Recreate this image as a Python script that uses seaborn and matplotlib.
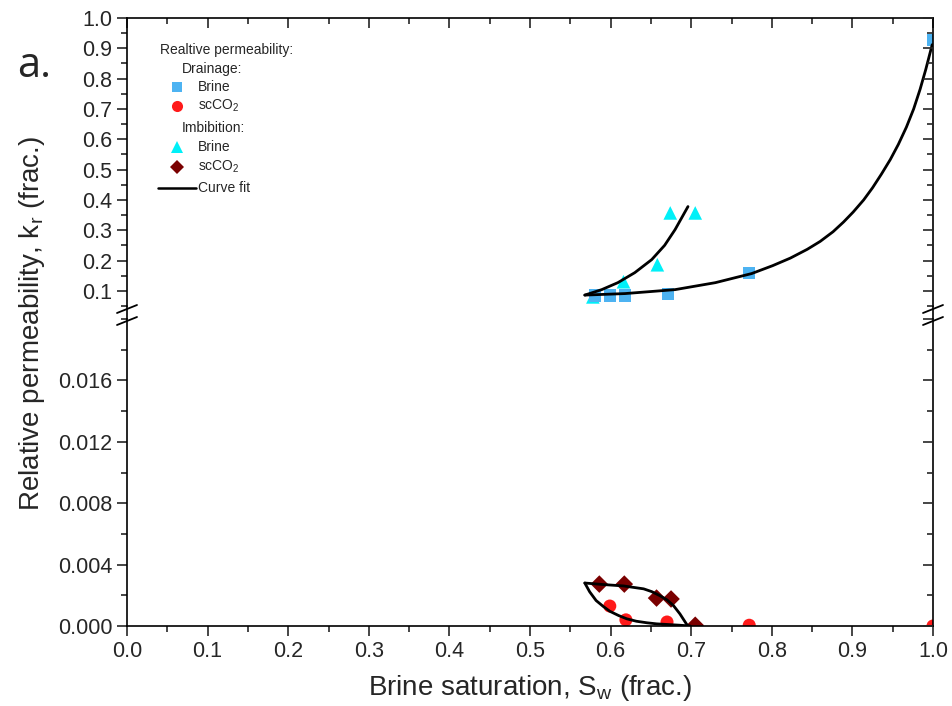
import matplotlib
matplotlib.use("Agg")
import matplotlib.pyplot as plt
from matplotlib.lines import Line2D
from matplotlib.ticker import MultipleLocator, FormatStrFormatter
import seaborn as sns

# ---------------- data ----------------
dr_brine_sw = [0.581, 0.599, 0.618, 0.671, 0.772, 1.0]
dr_brine_kr = [0.084, 0.084, 0.085, 0.090, 0.158, 0.928]
im_brine_sw = [0.578, 0.616, 0.658, 0.674, 0.705]
im_brine_kr = [0.080, 0.130, 0.186, 0.357, 0.357]
dr_co2_sw = [0.599, 0.619, 0.670, 0.772, 1.0]
dr_co2_kr = [0.0013, 0.0004, 0.00026, 0.00005, 0.0]
im_co2_sw = [0.586, 0.617, 0.657, 0.675, 0.705]
im_co2_kr = [0.00273, 0.00273, 0.00182, 0.00176, 0.00005]

# curve fits
fit_dr_brine_sw = [0.568, 0.618, 0.680, 0.730, 0.775, 0.801, 0.823, 0.844, 0.860, 0.876, 0.889, 0.901,
                   0.914, 0.925, 0.936, 0.947, 0.957, 0.967, 0.976, 0.984, 0.991, 0.999]
fit_dr_brine_kr = [0.086, 0.091, 0.104, 0.127, 0.157, 0.183, 0.208, 0.237, 0.263, 0.295, 0.327, 0.360,
                   0.400, 0.440, 0.485, 0.533, 0.583, 0.640, 0.700, 0.765, 0.830, 0.912]
fit_im_brine_sw = [0.568, 0.589, 0.609, 0.630, 0.651, 0.667, 0.680, 0.696]
fit_im_brine_kr = [0.086, 0.104, 0.127, 0.160, 0.203, 0.250, 0.302, 0.378]
fit_im_co2_sw = [0.568, 0.591, 0.616, 0.641, 0.651, 0.661, 0.670, 0.678, 0.686, 0.694, 0.696]
fit_im_co2_kr = [0.00280, 0.00270, 0.00261, 0.00242, 0.00224, 0.00198, 0.00170, 0.00133, 0.00079, 0.00014, 0.0]
fit_dr_co2_sw = [0.568, 0.574, 0.582, 0.591, 0.599, 0.610, 0.620, 0.632, 0.645, 0.657, 0.670, 0.686, 0.699]
fit_dr_co2_kr = [0.00280, 0.00223, 0.00166, 0.00127, 0.00096, 0.00068, 0.00047, 0.00031, 0.00021, 0.00014,
                 0.00010, 0.00005, 0.0]

xticks = [round(0.1 * i, 1) for i in range(11)]
top_yticks = [round(0.1 * i, 1) for i in range(1, 11)]
bot_yticks = [0.0, 0.004, 0.008, 0.012, 0.016]

c_sq = "#4db3f2"
c_ci = "#ff1a1a"
c_tri = "#00f0f8"
c_dia = "#7a0000"

sns.set_style("ticks")
plt.rcParams["font.family"] = ["Liberation Sans", "DejaVu Sans"]
plt.rcParams["mathtext.fontset"] = "custom"
plt.rcParams["mathtext.rm"] = "Liberation Sans"
plt.rcParams["mathtext.it"] = "Liberation Sans"

W, H = 953, 706
fig = plt.figure(figsize=(W / 100, H / 100), dpi=100)

def fx(px):
    return px / W

def fy(py):
    return 1 - py / H

L, R = 127, 933
ax_top = fig.add_axes([fx(L), fy(306), fx(R) - fx(L), fy(18) - fy(306)])
ax_bot = fig.add_axes([fx(L), fy(626), fx(R) - fx(L), fy(319) - fy(626)])

lw_spine = 1.2
for ax in (ax_top, ax_bot):
    for s in ax.spines.values():
        s.set_linewidth(lw_spine)
        s.set_color("black")
    ax.set_xlim(0, 1.0)
    ax.set_facecolor("white")

ax_top.set_ylim(0.05, 1.0)
ax_bot.set_ylim(0, 0.02)

ms = 80
lw_fit = 2.0
# top panel
sns.lineplot(x=fit_dr_brine_sw, y=fit_dr_brine_kr, sort=False, estimator=None, color="black", lw=lw_fit, ax=ax_top, zorder=3)
sns.lineplot(x=fit_im_brine_sw, y=fit_im_brine_kr, sort=False, estimator=None, color="black", lw=lw_fit, ax=ax_top, zorder=3)
sns.scatterplot(x=im_brine_sw, y=im_brine_kr, marker="^", s=ms * 1.2, color=c_tri, edgecolor="none", ax=ax_top, zorder=2)
sns.scatterplot(x=dr_brine_sw, y=dr_brine_kr, marker="s", s=ms, color=c_sq, edgecolor="none", ax=ax_top, zorder=2)

# bottom panel
sns.lineplot(x=fit_im_co2_sw, y=fit_im_co2_kr, sort=False, estimator=None, color="black", lw=lw_fit, ax=ax_bot, zorder=3)
sns.lineplot(x=fit_dr_co2_sw, y=fit_dr_co2_kr, sort=False, estimator=None, color="black", lw=lw_fit, ax=ax_bot, zorder=3)
sns.scatterplot(x=dr_co2_sw, y=dr_co2_kr, marker="o", s=ms * 1.1, color=c_ci, edgecolor="none", ax=ax_bot, zorder=2)
sns.scatterplot(x=im_co2_sw, y=im_co2_kr, marker="D", s=ms * 1.0, color=c_dia, edgecolor="none", ax=ax_bot, zorder=2)

for ax in (ax_top, ax_bot):
    ax.set_xlabel("")
    ax.set_ylabel("")
    leg = ax.get_legend()
    if leg:
        leg.remove()

ax_top.spines["bottom"].set_visible(False)
ax_bot.spines["top"].set_visible(False)

fs_tick = 15.5
ax_top.set_yticks(top_yticks)
ax_top.yaxis.set_major_formatter(FormatStrFormatter("%.1f"))
ax_top.yaxis.set_minor_locator(MultipleLocator(0.05))
ax_top.set_xticks(xticks)
ax_top.xaxis.set_minor_locator(MultipleLocator(0.05))
ax_top.tick_params(axis="x", which="both", bottom=False, top=True, labelbottom=False, labeltop=False, direction="in")
ax_top.tick_params(axis="y", which="both", left=True, right=False, direction="out", labelsize=fs_tick)
ax_top.tick_params(which="major", length=7, width=1.2)
ax_top.tick_params(which="minor", length=4, width=1.2)

ax_bot.set_xticks(xticks)
ax_bot.set_xticklabels([f"{v:.1f}" for v in xticks])
ax_bot.xaxis.set_minor_locator(MultipleLocator(0.05))
ax_bot.set_yticks(bot_yticks)
ax_bot.yaxis.set_major_formatter(FormatStrFormatter("%.3f"))
ax_bot.yaxis.set_minor_locator(MultipleLocator(0.002))
ax_bot.tick_params(axis="x", which="both", bottom=True, top=False, direction="out", labelsize=fs_tick)
ax_bot.tick_params(axis="y", which="both", left=True, right=False, direction="out", labelsize=fs_tick)
ax_bot.tick_params(which="major", length=7, width=1.2)
ax_bot.tick_params(which="minor", length=4, width=1.2)

# right-side inward ticks via twin axes
for ax, lo, hi, maj, mnr in ((ax_top, 0.05, 1.0, 0.1, 0.05), (ax_bot, 0, 0.02, 0.004, 0.002)):
    t = ax.twinx()
    t.set_ylim(lo, hi)
    t.yaxis.set_major_locator(MultipleLocator(maj))
    t.yaxis.set_minor_locator(MultipleLocator(mnr))
    t.tick_params(axis="y", which="both", direction="in", labelright=False, width=1.2)
    t.tick_params(which="major", length=7)
    t.tick_params(which="minor", length=4)
    for s in t.spines.values():
        s.set_visible(False)

# spine through the break + break marks
for xpx in (L, R):
    fig.add_artist(Line2D([fx(xpx), fx(xpx)], [fy(306), fy(319)], color="black", lw=lw_spine))
    for ypx in (309, 321):
        fig.add_artist(Line2D([fx(xpx - 10), fx(xpx + 10)], [fy(ypx + 4), fy(ypx - 4)], color="black", lw=1.3))

# axis labels
fig.text(fx(530), fy(688), r"Brine saturation, S$_\mathrm{w}$ (frac.)", ha="center", va="center", fontsize=20)
fig.text(fx(32), fy(324), r"Relative permeability, k$_\mathrm{r}$ (frac.)", ha="center", va="center", rotation=90, fontsize=20)
fig.text(fx(17), fy(66), "a.", ha="left", va="center", fontsize=30, family=["Open Sans", "DejaVu Sans"])

# legend (manual layout)
fs_leg = 10
fig.text(fx(160), fy(50), "Realtive permeability:", fontsize=fs_leg, va="center", ha="left")
fig.text(fx(182), fy(69), "Drainage:", fontsize=fs_leg, va="center", ha="left")
fig.text(fx(182), fy(128), "Imbibition:", fontsize=fs_leg, va="center", ha="left")
entries = [(87, "s", c_sq, "Brine", 6.5), (106, "o", c_ci, r"scCO$_\mathrm{2}$", 8),
           (147, "^", c_tri, "Brine", 9), (167, "D", c_dia, r"scCO$_\mathrm{2}$", 7)]
for ypx, mk, col, lab, msz in entries:
    fig.add_artist(Line2D([fx(177)], [fy(ypx)], marker=mk, color=col, markersize=msz, markeredgewidth=0, linestyle="none"))
    fig.text(fx(198), fy(ypx), lab, fontsize=fs_leg, va="center", ha="left")
fig.add_artist(Line2D([fx(158), fx(196)], [fy(188), fy(188)], color="black", lw=1.8))
fig.text(fx(198), fy(188), "Curve fit", fontsize=fs_leg, va="center", ha="left")

fig.savefig("out.png", dpi=100, facecolor="white")
